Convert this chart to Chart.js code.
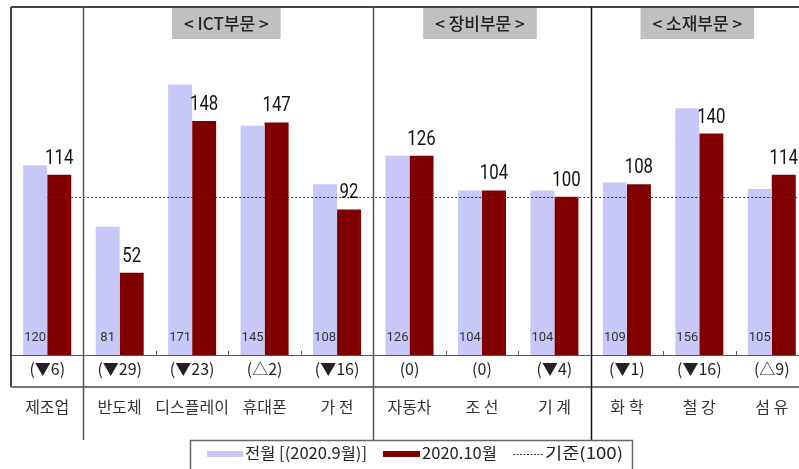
<!DOCTYPE html>
<html><head><meta charset="utf-8">
<script src="https://cdn.jsdelivr.net/npm/chart.js@4"></script>
<style>
html,body{margin:0;padding:0;background:#fff;overflow:hidden;}
#wrap{width:799px;height:469px;overflow:hidden;position:relative;}
canvas{display:block;}
</style></head>
<body>
<div id="wrap"><canvas id="c" width="810" height="469"></canvas></div>
<script>
const categories = ['제조업','반도체','디스플레이','휴대폰','가 전','자동차','조 선','기 계','화 학','철 강','섬 유'];
const prevMonth = [120,81,171,145,108,126,104,104,109,156,105];
const currMonth = [114,52,148,147,92,126,104,100,108,140,114];
const changes = ['(▼6)','(▼29)','(▼23)','(△2)','(▼16)','(0)','(0)','(▼4)','(▼1)','(▼16)','(△9)'];
const sectionLabels = ['< ICT부문 >','< 장비부문 >','< 소재부문 >'];
const sectionRanges = [[1,4],[5,7],[8,10]];
const separatorsAfter = [0,4,7];
const baseValue = 100;
const legendLabels = ['전월 [(2020.9월)]','2020.10월','기준(100)'];

const LIGHT = '#c8c8f8', DARK = '#800000';
const KR = '"Noto Sans CJK KR","Noto Sans",sans-serif';
const NUM = 'Roboto,"Noto Sans",sans-serif';

function fitText(ctx, txt, x, y, targetW){
  const w = ctx.measureText(txt).width;
  ctx.save(); ctx.translate(x, y); ctx.scale(targetW / w, 1);
  ctx.fillText(txt, 0, 0); ctx.restore();
}

const overlay = {
  id:'overlay',
  beforeDatasetsDraw(chart){
    const ctx = chart.ctx, a = chart.chartArea, x = chart.scales.x;
    ctx.save();
    ctx.strokeStyle = '#444'; ctx.lineWidth = 2;
    ctx.beginPath(); ctx.moveTo(a.left, a.top); ctx.lineTo(820, a.top); ctx.stroke();
    ctx.beginPath(); ctx.moveTo(a.left, a.top); ctx.lineTo(a.left, 387); ctx.stroke();
    ctx.strokeStyle = '#777'; ctx.lineWidth = 2;
    ctx.beginPath(); ctx.moveTo(a.left, 387); ctx.lineTo(820, 387); ctx.stroke();
    ctx.strokeStyle = '#555'; ctx.lineWidth = 1;
    ctx.beginPath(); ctx.moveTo(a.left, a.bottom+0.5); ctx.lineTo(820, a.bottom+0.5); ctx.stroke();
    const w = (a.right - a.left)/categories.length;
    ctx.strokeStyle = '#555';
    for(let i=1;i<categories.length;i++){
      const bx = Math.round(a.left + i*w)+0.5;
      ctx.beginPath(); ctx.moveTo(bx, a.bottom-4); ctx.lineTo(bx, a.bottom); ctx.stroke();
    }
    separatorsAfter.forEach((idx,k)=>{
      const bx = Math.round((x.getPixelForValue(idx)+x.getPixelForValue(idx+1))/2)+0.5;
      ctx.strokeStyle = k===2 ? '#111' : '#555'; ctx.lineWidth = 1.5;
      ctx.beginPath(); ctx.moveTo(bx, a.top); ctx.lineTo(bx, 440); ctx.stroke();
    });
    ctx.font = '500 17px ' + KR; ctx.textAlign='center'; ctx.textBaseline='middle';
    sectionLabels.forEach((lab,i)=>{
      const r = sectionRanges[i];
      let cx = (x.getPixelForValue(r[0]) + x.getPixelForValue(r[1]))/2 - 2;
      const tw = ctx.measureText(lab).width + 24;
      ctx.fillStyle = '#c0c0c0';
      ctx.fillRect(cx - tw/2, a.top+1, tw, 31);
      ctx.fillStyle = '#222';
      ctx.fillText(lab, cx, a.top+17);
    });
    ctx.restore();
  },
  afterDatasetsDraw(chart){
    const ctx = chart.ctx, a = chart.chartArea, x = chart.scales.x, y = chart.scales.y;
    ctx.save();
    const by = Math.round(y.getPixelForValue(baseValue))+0.5;
    ctx.strokeStyle = '#333'; ctx.lineWidth = 1; ctx.setLineDash([2,2]);
    ctx.beginPath(); ctx.moveTo(x.getPixelForValue(0), by); ctx.lineTo(820, by); ctx.stroke();
    ctx.setLineDash([]);
    const m0 = chart.getDatasetMeta(0), m1 = chart.getDatasetMeta(1);
    ctx.textAlign='center'; ctx.textBaseline='alphabetic'; ctx.fillStyle='#111';
    m1.data.forEach((bar,i)=>{
      ctx.save();
      ctx.translate(bar.x, bar.y - 11);
      ctx.scale(0.84,1);
      ctx.font = '20px ' + NUM;
      ctx.fillText(String(currMonth[i]), 0, 0);
      ctx.restore();
    });
    ctx.font = '13px ' + NUM; ctx.fillStyle = '#333'; ctx.textBaseline='middle';
    m0.data.forEach((bar,i)=>{ ctx.fillText(String(prevMonth[i]), bar.x, 338); });
    ctx.font = '16px ' + KR; ctx.fillStyle = '#222';
    categories.forEach((c,i)=>{ ctx.fillText(changes[i], x.getPixelForValue(i), 369); });
    ctx.font = '16px ' + KR; ctx.fillStyle = '#333';
    categories.forEach((c,i)=>{ ctx.fillText(c, x.getPixelForValue(i), 407); });
    // legend
    ctx.fillStyle = '#fff'; ctx.fillRect(190, 440, 442, 60);
    ctx.strokeStyle = '#666'; ctx.lineWidth = 1.5;
    ctx.strokeRect(190.5, 440.5, 442, 60);
    ctx.fillStyle = LIGHT; ctx.fillRect(207, 451, 36, 6);
    ctx.fillStyle = DARK; ctx.fillRect(383, 451, 37, 6);
    ctx.strokeStyle = '#333'; ctx.lineWidth = 1; ctx.setLineDash([2,1.5]);
    ctx.beginPath(); ctx.moveTo(513, 454.5); ctx.lineTo(543, 454.5); ctx.stroke();
    ctx.setLineDash([]);
    ctx.font = '16px ' + KR; ctx.fillStyle = '#222'; ctx.textAlign='left'; ctx.textBaseline='middle';
    fitText(ctx, legendLabels[0], 245, 453, 122);
    fitText(ctx, legendLabels[1], 422, 453, 75);
    fitText(ctx, legendLabels[2], 545, 453, 78);
    ctx.restore();
  }
};

new Chart(document.getElementById('c'), {
  type:'bar',
  data:{ labels:categories, datasets:[
    {label:legendLabels[0], data:prevMonth, backgroundColor:LIGHT, categoryPercentage:0.663, barPercentage:1.0},
    {label:legendLabels[1], data:currMonth, backgroundColor:DARK, categoryPercentage:0.663, barPercentage:1.0}
  ]},
  options:{
    responsive:false, animation:false, devicePixelRatio:1,
    layout:{padding:{left:11, right:2, top:7, bottom:114}},
    plugins:{legend:{display:false}, tooltip:{enabled:false}},
    scales:{
      x:{display:false},
      y:{display:false, min:0, max:220}
    }
  },
  plugins:[overlay]
});
</script>
</body></html>
